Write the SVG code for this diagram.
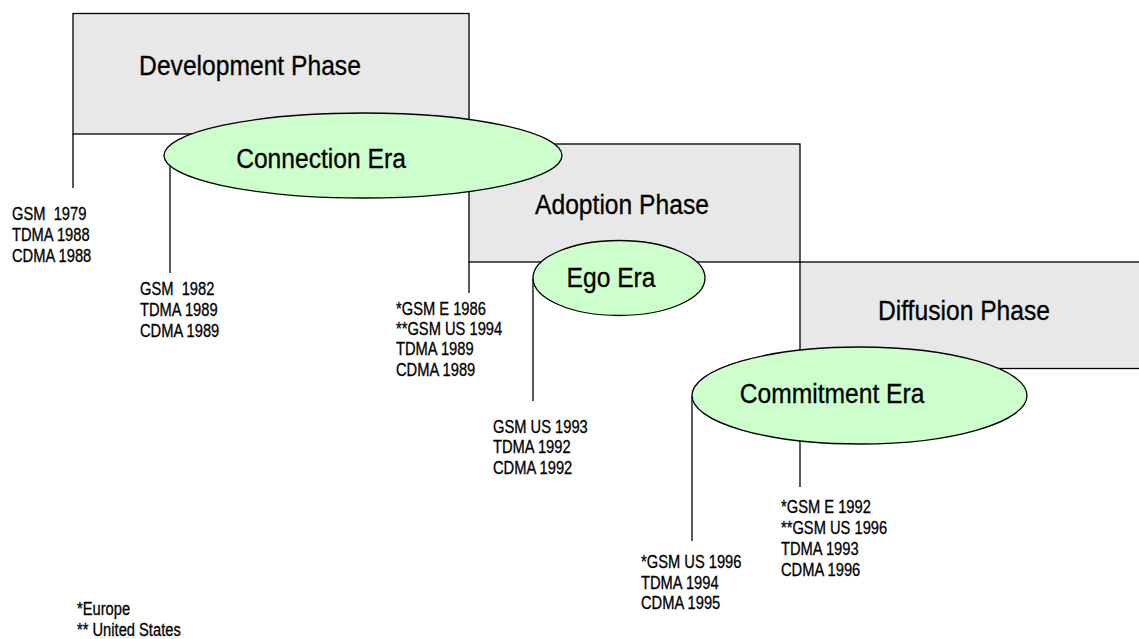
<svg xmlns="http://www.w3.org/2000/svg" width="1139" height="639" viewBox="0 0 1139 639">
  <style>
    .phase { fill: #e8e8e8; stroke: #000; stroke-width: 1.3; }
    .era { fill: #ccffcc; stroke: #000; stroke-width: 1.3; }
    .conn { stroke: #000; stroke-width: 1.3; fill: none; }
    text { font-family: "Liberation Sans Narrow", "Liberation Sans", Arial, sans-serif; fill: #000; stroke: #000; stroke-width: 0.3; transform-box: fill-box; }
    /* narrow face: condense the regular sans horizontally */
    .title { font-size: 28px; text-anchor: middle; transform-origin: 50% 50%; transform: scale(0.88, 1); }
    .lbl { font-size: 17.5px; transform-origin: 0 0; transform: scale(0.84, 1); }
  </style>
  <rect width="1139" height="639" fill="#fff"/>

  <!-- phase boxes -->
  <g id="development-phase">
    <rect class="phase" x="73" y="13.5" width="396" height="120.5"/>
    <text class="title" x="250" y="75">Development Phase</text>
  </g>
  <g id="adoption-phase">
    <rect class="phase" x="469" y="144" width="331" height="118"/>
    <text class="title" x="622" y="214">Adoption Phase</text>
  </g>
  <g id="diffusion-phase">
    <rect class="phase" x="800" y="262" width="341" height="106.5"/>
    <text class="title" x="964" y="320">Diffusion Phase</text>
  </g>

  <!-- vertical leader lines -->
  <g id="connectors">
    <line class="conn" x1="73" y1="134" x2="73" y2="188"/>
    <line class="conn" x1="170" y1="156" x2="170" y2="273"/>
    <line class="conn" x1="469" y1="262" x2="469" y2="293"/>
    <line class="conn" x1="533" y1="278" x2="533" y2="401"/>
    <line class="conn" x1="692" y1="396" x2="692" y2="541"/>
    <line class="conn" x1="800" y1="440" x2="800" y2="487"/>
  </g>

  <!-- eras -->
  <g id="connection-era">
    <ellipse class="era" cx="363" cy="155.5" rx="199" ry="42.5"/>
    <text class="title" x="321" y="168">Connection Era</text>
  </g>
  <g id="ego-era">
    <ellipse class="era" cx="619" cy="278" rx="86" ry="37.5"/>
    <text class="title" x="611" y="287">Ego Era</text>
  </g>
  <g id="commitment-era">
    <ellipse class="era" cx="859.5" cy="395.5" rx="167.5" ry="48.5"/>
    <text class="title" x="832" y="403">Commitment Era</text>
  </g>

  <!-- milestone dates -->
  <g id="dates-development">
    <text class="lbl" x="12" y="220" xml:space="preserve">GSM  1979</text>
    <text class="lbl" x="12" y="241">TDMA 1988</text>
    <text class="lbl" x="12" y="262">CDMA 1988</text>
  </g>
  <g id="dates-connection">
    <text class="lbl" x="140" y="295" xml:space="preserve">GSM  1982</text>
    <text class="lbl" x="140" y="316">TDMA 1989</text>
    <text class="lbl" x="140" y="337">CDMA 1989</text>
  </g>
  <g id="dates-adoption">
    <text class="lbl" x="396" y="315">*GSM E 1986</text>
    <text class="lbl" x="396" y="335">**GSM US 1994</text>
    <text class="lbl" x="396" y="355">TDMA 1989</text>
    <text class="lbl" x="396" y="376">CDMA 1989</text>
  </g>
  <g id="dates-ego">
    <text class="lbl" x="493" y="433">GSM US 1993</text>
    <text class="lbl" x="493" y="453">TDMA 1992</text>
    <text class="lbl" x="493" y="474">CDMA 1992</text>
  </g>
  <g id="dates-commitment">
    <text class="lbl" x="641" y="568">*GSM US 1996</text>
    <text class="lbl" x="641" y="589">TDMA 1994</text>
    <text class="lbl" x="641" y="609">CDMA 1995</text>
  </g>
  <g id="dates-diffusion">
    <text class="lbl" x="781" y="513">*GSM E 1992</text>
    <text class="lbl" x="781" y="534">**GSM US 1996</text>
    <text class="lbl" x="781" y="555">TDMA 1993</text>
    <text class="lbl" x="781" y="576">CDMA 1996</text>
  </g>

  <!-- footnotes -->
  <g id="legend">
    <text class="lbl" x="77" y="615">*Europe</text>
    <text class="lbl" x="77" y="636">** United States</text>
  </g>
</svg>
